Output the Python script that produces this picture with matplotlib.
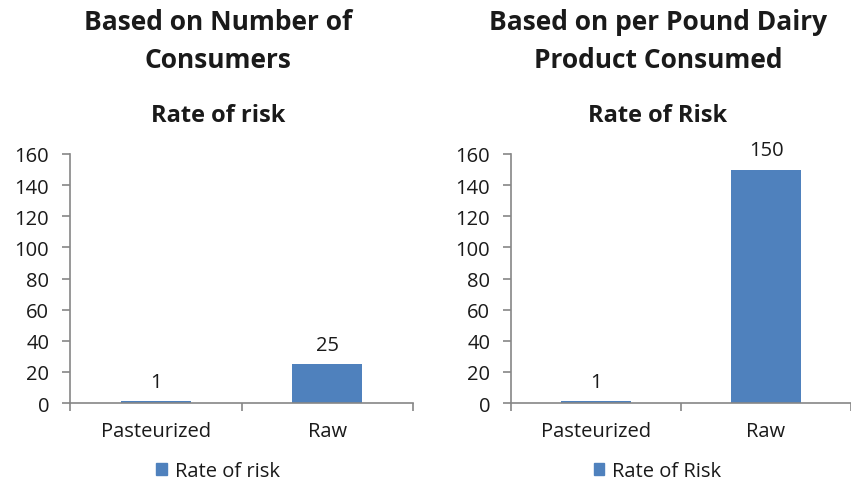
import matplotlib.pyplot as plt
from matplotlib.patches import Patch

plt.rcParams['font.family'] = ['Open Sans', 'DejaVu Sans']

categories = ["Pasteurized", "Raw"]
consumers_risk = [1, 25]
pound_risk = [1, 150]
yticks = [0, 20, 40, 60, 80, 100, 120, 140, 160]

bar_color = "#4F81BD"
axis_color = "#868686"
text_color = "#1a1a1a"

fig = plt.figure(figsize=(8.51, 4.85), dpi=100)


def draw_panel(rect, values, title, subtitle, legend_label, cx):
    ax = fig.add_axes(rect)
    x = range(len(categories))
    ax.bar(x, values, width=0.41, color=bar_color, zorder=2)
    for xi, v in zip(x, values):
        ax.text(xi, v + 6, str(v), ha="center", va="bottom", fontsize=14.5, color=text_color)
    ax.set_xlim(-0.5, len(categories) - 0.5)
    ax.set_ylim(0, 160)
    ax.set_yticks(yticks)
    ax.set_xticks(list(x))
    ax.set_xticklabels(categories)
    # category boundary ticks on the x axis
    ax.set_xticks([-0.5, 0.5, 1.5], minor=True)
    ax.tick_params(axis="x", which="major", length=0, pad=13, labelsize=14.5, labelcolor=text_color)
    ax.tick_params(axis="x", which="minor", length=6, width=1.2, color=axis_color, direction="out")
    ax.tick_params(axis="y", length=6, width=1.2, color=axis_color, direction="out", pad=9,
                   labelsize=14.5, labelcolor=text_color)
    for side in ("top", "right"):
        ax.spines[side].set_visible(False)
    for side in ("left", "bottom"):
        ax.spines[side].set_color(axis_color)
        ax.spines[side].set_linewidth(1.2)
    ax.spines["left"].set_zorder(3)
    ax.spines["bottom"].set_zorder(3)

    lines = title.split("\n")
    fig.text(cx, 1 - 23 / 485, lines[0], ha="center", va="center", fontsize=19,
             fontweight="bold", color=text_color)
    fig.text(cx, 1 - 60 / 485, lines[1], ha="center", va="center", fontsize=19,
             fontweight="bold", color=text_color)
    fig.text(cx, 1 - 116 / 485, subtitle, ha="center", va="center", fontsize=17,
             fontweight="bold", color=text_color)
    fig.legend(handles=[Patch(color=bar_color, label=legend_label)], loc="center",
               bbox_to_anchor=(cx, 1 - 472 / 485), frameon=False, fontsize=14.5,
               handlelength=0.5, handleheight=0.5, handletextpad=0.4, labelcolor=text_color)
    return ax


draw_panel([70 / 851, 1 - 404 / 485, 343 / 851, 249 / 485], consumers_risk,
           "Based on Number of\nConsumers", "Rate of risk", "Rate of risk", 218 / 851)
draw_panel([511 / 851, 1 - 404 / 485, 340 / 851, 249 / 485], pound_risk,
           "Based on per Pound Dairy\nProduct Consumed", "Rate of Risk", "Rate of Risk", 658 / 851)

fig.savefig("out.png", dpi=100)
